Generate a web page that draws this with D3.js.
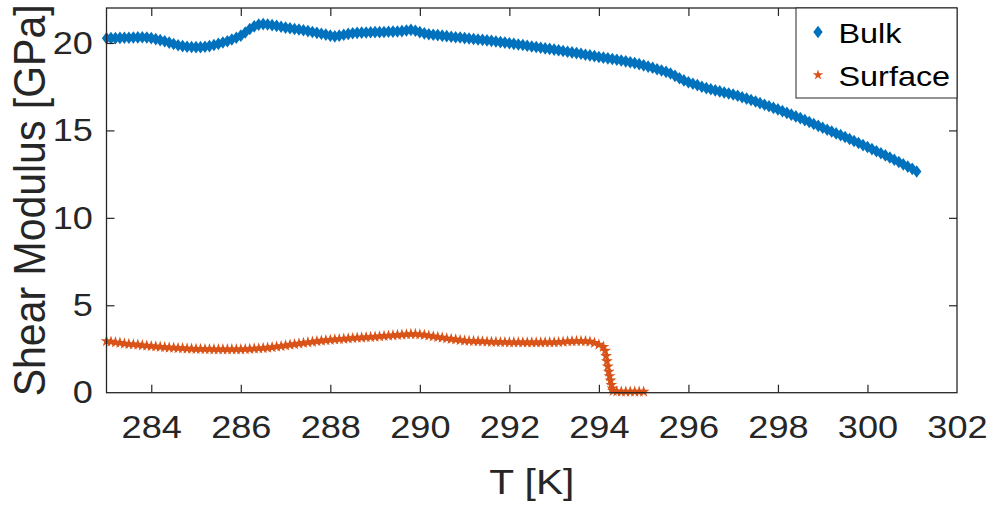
<!DOCTYPE html>
<html>
<head>
<meta charset="utf-8">
<script src="https://cdn.jsdelivr.net/npm/d3@7"></script>
<style>
  body { margin: 0; background: #fff; }
  svg { display: block; font-family: "Liberation Sans", Arial, sans-serif; }
</style>
</head>
<body>
<svg id="chart" width="989" height="505"></svg>
<script>
/*------------------- data --------------------*/
// temperature grid for the regularly sampled parts (K)
const bulkStartT = 283.0;
const surfaceStartT = 283.0;
const sampleStep = 0.1;

// bulk shear modulus, GPa, one value every 0.1 K from 283.0 to 301.1
const bulkModulus = [
    20.27, 20.28, 20.28, 20.29, 20.30, 20.30, 20.31, 20.32, 20.33, 20.31,
    20.28, 20.22, 20.16, 20.10, 20.02, 19.94, 19.87, 19.82, 19.78, 19.77,
    19.76, 19.76, 19.78, 19.82, 19.88, 19.95, 20.03, 20.10, 20.20, 20.30,
    20.42, 20.60, 20.80, 20.95, 21.05, 21.08, 21.06, 21.02, 20.98, 20.93,
    20.88, 20.84, 20.80, 20.77, 20.73, 20.68, 20.63, 20.58, 20.53, 20.48,
    20.42, 20.38, 20.42, 20.47, 20.52, 20.56, 20.58, 20.59, 20.60, 20.61,
    20.62, 20.62, 20.63, 20.64, 20.65, 20.66, 20.68, 20.71, 20.75, 20.70,
    20.62, 20.55, 20.50, 20.47, 20.45, 20.42, 20.39, 20.36, 20.33, 20.31,
    20.28, 20.26, 20.23, 20.20, 20.18, 20.15, 20.12, 20.08, 20.05, 20.02,
    19.98, 19.95, 19.91, 19.88, 19.84, 19.80, 19.77, 19.73, 19.69, 19.66,
    19.62, 19.58, 19.54, 19.50, 19.46, 19.42, 19.38, 19.33, 19.29, 19.25,
    19.20, 19.16, 19.12, 19.08, 19.04, 19.00, 18.95, 18.90, 18.85, 18.79,
    18.72, 18.65, 18.58, 18.50, 18.43, 18.35, 18.25, 18.12, 17.98, 17.86,
    17.75, 17.67, 17.59, 17.50, 17.42, 17.35, 17.29, 17.23, 17.17, 17.11,
    17.05, 16.98, 16.90, 16.82, 16.74, 16.65, 16.56, 16.47, 16.38, 16.29,
    16.20, 16.10, 16.00, 15.90, 15.80, 15.70, 15.59, 15.48, 15.37, 15.26,
    15.15, 15.04, 14.94, 14.83, 14.73, 14.62, 14.51, 14.39, 14.28, 14.16,
    14.05, 13.93, 13.81, 13.69, 13.57, 13.45, 13.32, 13.19, 13.06, 12.93,
    12.80, 12.65
];

// surface shear modulus, GPa, one value every 0.1 K from 283.0 to 294.1
const surfaceModulus = [
    2.95, 2.92, 2.88, 2.85, 2.81, 2.78, 2.76, 2.74, 2.71, 2.69,
    2.66, 2.64, 2.62, 2.60, 2.58, 2.57, 2.55, 2.54, 2.52, 2.51,
    2.50, 2.50, 2.49, 2.49, 2.48, 2.48, 2.48, 2.48, 2.48, 2.48,
    2.48, 2.49, 2.50, 2.52, 2.53, 2.55, 2.57, 2.60, 2.63, 2.66,
    2.70, 2.74, 2.77, 2.81, 2.84, 2.88, 2.91, 2.94, 2.97, 3.00,
    3.02, 3.04, 3.06, 3.08, 3.10, 3.12, 3.14, 3.15, 3.17, 3.18,
    3.20, 3.22, 3.24, 3.26, 3.28, 3.30, 3.32, 3.33, 3.35, 3.35,
    3.33, 3.30, 3.26, 3.22, 3.18, 3.15, 3.11, 3.07, 3.04, 3.01,
    2.98, 2.96, 2.95, 2.94, 2.93, 2.92, 2.91, 2.90, 2.89, 2.89,
    2.88, 2.88, 2.88, 2.87, 2.87, 2.87, 2.87, 2.87, 2.88, 2.88,
    2.88, 2.89, 2.91, 2.93, 2.94, 2.95, 2.95, 2.94, 2.92, 2.85,
    2.75, 2.62
];

// the collapse near 294.2 K and the tail after it
const surfaceDropT = [294.14, 294.16, 294.18, 294.20, 294.22, 294.24, 294.26, 294.28, 294.30, 294.32,
                      294.40, 294.50, 294.60, 294.70, 294.80, 294.90, 295.00];
const surfaceDropModulus = [2.40, 2.10, 1.80, 1.50, 1.20, 0.95, 0.70, 0.45, 0.25, 0.10,
                            0.07, 0.06, 0.06, 0.06, 0.06, 0.06, 0.06];

const xTicks = [284, 286, 288, 290, 292, 294, 296, 298, 300, 302];
const yTicks = [0, 5, 10, 15, 20];
const seriesNames = ["Bulk", "Surface"];
const seriesColors = ["#0072BD", "#D95319"];

/*------------------- layout --------------------*/
const plot = { left: 106.5, right: 957, top: 8, bottom: 392.7 };
const axisColor = "#262626";
const tickLen = 8;
// the reference text looks a bit wide, so glyphs get a horizontal stretch
const tickStretch = 1.13;
const titleStretch = 1.18;

const svg = d3.select("#chart");

const xScale = d3.scaleLinear().domain([283, 302]).range([plot.left, plot.right]);
const yScale = d3.scaleLinear().domain([0, 22]).range([plot.bottom, plot.top]);

// build point lists
const bulk = bulkModulus.map((g, i) => ({ t: bulkStartT + i * sampleStep, g: g }));
const surface = surfaceModulus.map((g, i) => ({ t: surfaceStartT + i * sampleStep, g: g }))
    .concat(surfaceDropT.map((t, i) => ({ t: t, g: surfaceDropModulus[i] })));

/*------------------- markers --------------------*/
const diamond = "M0,-6.3L4.7,0L0,6.3L-4.7,0Z";
const star = d3.symbol().type(d3.symbolStar).size(44)();
const legendStar = d3.symbol().type(d3.symbolStar).size(34)();

svg.append("g")
    .selectAll("path")
    .data(bulk)
    .enter()
    .append("path")
    .attr("d", diamond)
    .attr("fill", seriesColors[0])
    .attr("transform", d => "translate(" + xScale(d.t) + "," + yScale(d.g) + ")");

svg.append("g")
    .selectAll("path")
    .data(surface)
    .enter()
    .append("path")
    .attr("d", star)
    .attr("fill", seriesColors[1])
    .attr("transform", d => "translate(" + xScale(d.t) + "," + yScale(d.g) + ")");

/*------------------- axes --------------------*/
function styleAxis(g) {
    g.select(".domain").remove();
    g.selectAll(".tick line").attr("stroke", axisColor).attr("stroke-width", 1.2);
    g.selectAll(".tick text")
        .attr("fill", axisColor)
        .attr("transform", "scale(" + tickStretch + ",1)")
        .style("font-size", "32px");
}

// bottom
svg.append("g")
    .attr("transform", "translate(0," + plot.bottom + ")")
    .call(d3.axisBottom(xScale).tickValues(xTicks).tickSizeInner(-tickLen).tickSizeOuter(0).tickPadding(23).tickFormat(d3.format("d")))
    .call(styleAxis)
    .call(g => g.selectAll(".tick line").filter(d => d === 302).remove());

// top (ticks only)
svg.append("g")
    .attr("transform", "translate(0," + plot.top + ")")
    .call(d3.axisTop(xScale).tickValues(xTicks.filter(d => d < 302)).tickSizeInner(-tickLen).tickSizeOuter(0).tickFormat(""))
    .call(styleAxis);

// left
svg.append("g")
    .attr("transform", "translate(" + plot.left + ",0)")
    .call(d3.axisLeft(yScale).tickValues(yTicks).tickSizeInner(-tickLen).tickSizeOuter(0).tickPadding(12))
    .call(styleAxis)
    .call(g => g.selectAll(".tick line").filter(d => d === 0).remove());

// right (ticks only)
svg.append("g")
    .attr("transform", "translate(" + plot.right + ",0)")
    .call(d3.axisRight(yScale).tickValues(yTicks.filter(d => d > 0)).tickSizeInner(-tickLen).tickSizeOuter(0).tickFormat(""))
    .call(styleAxis);

// box
svg.append("rect")
    .attr("x", plot.left)
    .attr("y", plot.top)
    .attr("width", plot.right - plot.left)
    .attr("height", plot.bottom - plot.top)
    .attr("fill", "none")
    .attr("stroke", axisColor)
    .attr("stroke-width", 1.3);

// axis titles
svg.append("text")
    .attr("transform", "translate(" + (plot.left + plot.right) / 2 + ",494) scale(" + titleStretch + ",1)")
    .attr("text-anchor", "middle")
    .attr("fill", axisColor)
    .style("font-size", "34.5px")
    .text("T [K]");

svg.append("text")
    .attr("transform", "translate(45," + (plot.top + plot.bottom) / 2 + ") scale(1.08,1) rotate(-90)")
    .attr("text-anchor", "middle")
    .attr("fill", axisColor)
    .style("font-size", "41px")
    .text("Shear Modulus [GPa]");

/*------------------- legend --------------------*/
const legend = svg.append("g");

legend.append("rect")
    .attr("x", 796)
    .attr("y", plot.top)
    .attr("width", plot.right - 796)
    .attr("height", 90)
    .attr("fill", "#fff")
    .attr("stroke", axisColor)
    .attr("stroke-width", 1);

const legendRows = [
    { name: seriesNames[0], color: seriesColors[0], shape: diamond, y: 32, base: 43.3 },
    { name: seriesNames[1], color: seriesColors[1], shape: legendStar, y: 75, base: 86.3 }
];

legendRows.forEach(r => {
    legend.append("path")
        .attr("d", r.shape)
        .attr("fill", r.color)
        .attr("transform", "translate(818," + r.y + ")");
    legend.append("text")
        .attr("transform", "translate(838.5," + r.base + ") scale(1.2,1)")
        .attr("fill", "#000")
        .style("font-size", "27px")
        .text(r.name);
});
</script>
</body>
</html>
